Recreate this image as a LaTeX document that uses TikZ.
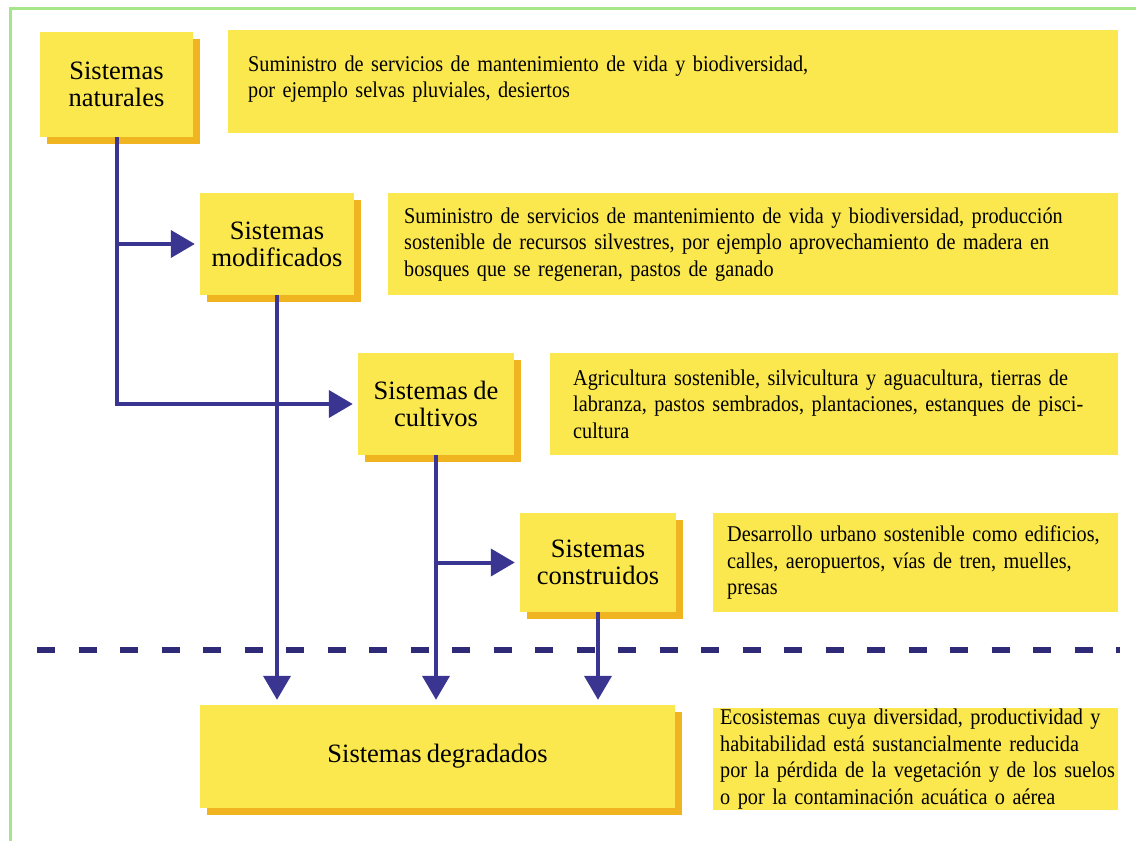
\documentclass[tikz,border=0pt]{standalone}
\usepackage{fontspec}
\setmainfont{Liberation Serif}[WordSpace=0.8]
\newfontfamily\descfont{Liberation Serif}[FakeStretch=0.9, WordSpace=0.7]
\usetikzlibrary{shadows,arrows.meta}
\definecolor{boxyellow}{HTML}{FBE84E}
\definecolor{shadoworange}{HTML}{F0B420}
\definecolor{framegreen}{HTML}{A6E58C}
\definecolor{connblue}{HTML}{3A3590}
\definecolor{dashblue}{HTML}{2F2A78}
\tikzset{
  sysbox/.style={rectangle, fill=boxyellow, draw=none, align=center,
    font=\fontsize{26.5}{27}\selectfont,
    copy shadow={shadow xshift=7pt, shadow yshift=-7pt, fill=shadoworange, draw=none}},
  desc/.style={rectangle, fill=boxyellow, draw=none, align=left, anchor=north west,
    font=\descfont\fontsize{22.5}{26.5}\selectfont, inner ysep=0pt},
  conn/.style={draw=connblue, line width=4pt},
  arr/.style={conn, -{Triangle[width=27pt,length=24pt]}, shorten >=5pt},
}
\begin{document}
\begin{tikzpicture}[x=1pt,y=-1pt]
\useasboundingbox (0,0) rectangle (1136,841);
\fill[white] (0,0) rectangle (1136,841);
\draw[framegreen, line width=3pt] (10,841) -- (10,8) -- (1136,8);

% main boxes
\node[sysbox, minimum width=153pt, minimum height=105pt] (n1) at (116.5,84.5) {Sistemas\\naturales};
\node[sysbox, minimum width=154pt, minimum height=102pt] (n2) at (277,244) {Sistemas\\modificados};
\node[sysbox, minimum width=156pt, minimum height=102pt] (n3) at (436,404) {Sistemas de\\cultivos};
\node[sysbox, minimum width=156pt, minimum height=99pt] (n4) at (598,562.5) {Sistemas\\construidos};
\node[sysbox, minimum width=475pt, minimum height=103pt] (deg) at (437.5,756.5) {Sistemas degradados};

% description boxes
\node[desc, inner xsep=20pt, text width=850pt, minimum height=103pt] (d1) at (228,30)
  {\mbox{Suministro de servicios de mantenimiento de vida y biodiversidad,}\\\mbox{por ejemplo selvas pluviales, desiertos}\\[-16pt]\mbox{}};
\node[desc, inner xsep=16pt, text width=698pt, minimum height=102pt] (d2) at (388,193)
  {\mbox{Suministro de servicios de mantenimiento de vida y biodiversidad, producción}\\\mbox{sostenible de recursos silvestres, por ejemplo aprovechamiento de madera en}\\\mbox{bosques que se regeneran, pastos de ganado}};
\node[desc, inner xsep=23pt, text width=522pt, minimum height=102pt] (d3) at (550,353)
  {\mbox{Agricultura sostenible, silvicultura y aguacultura, tierras de}\\\mbox{labranza, pastos sembrados, plantaciones, estanques de pisci-}\\\mbox{cultura}};
\node[desc, inner xsep=14pt, text width=377pt, minimum height=99pt] (d4) at (713,513)
  {\mbox{Desarrollo urbano sostenible como edificios,}\\\mbox{calles, aeropuertos, vías de tren, muelles,}\\\mbox{presas}};
\node[desc, inner xsep=7pt, text width=391pt, minimum height=102pt] (d5) at (713,708)
  {\mbox{Ecosistemas cuya diversidad, productividad y}\\\mbox{habitabilidad está sustancialmente reducida}\\\mbox{por la pérdida de la vegetación y de los suelos}\\\mbox{o por la contaminación acuática o aérea}};

% dashed divider
\coordinate (dashL) at (37,650);
\coordinate (dashR) at (1120,650);
\draw[dashblue, line width=6pt, dash pattern=on 18pt off 23.5pt] (dashL) -- (dashR);

% connectors
\draw[arr] (n1.south) -- (n1.south |- n3.west) -- (n3.west);
\draw[arr] (n1.south |- n2.west) -- (n2.west);
\draw[arr] (n2.south) -- (n2.south |- deg.north);
\draw[arr] (n3.south) -- (n3.south |- deg.north);
\draw[arr] (n3.south |- n4.west) -- (n4.west);
\draw[arr] (n4.south) -- (n4.south |- deg.north);
\end{tikzpicture}
\end{document}
